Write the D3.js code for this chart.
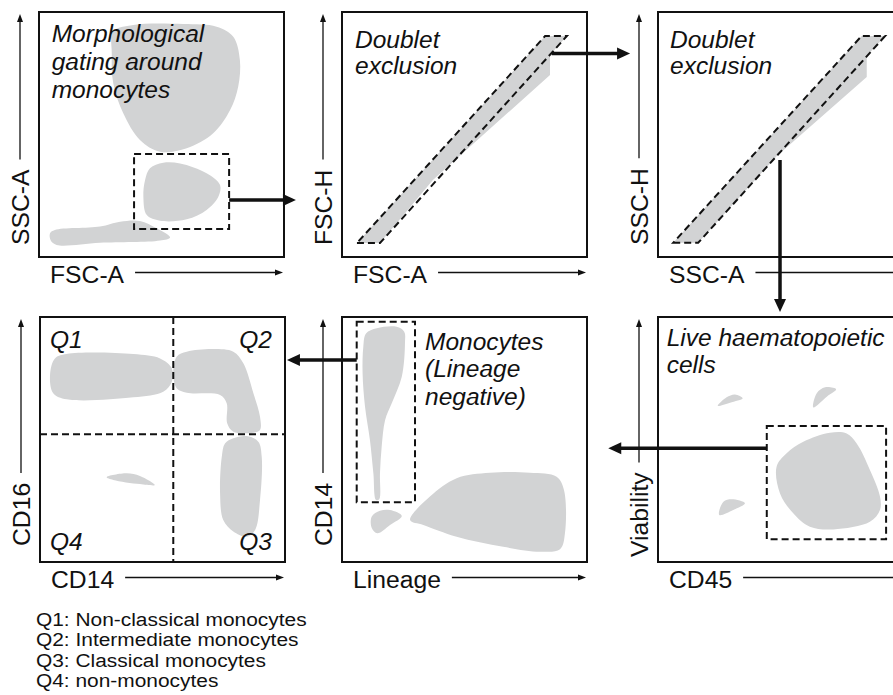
<!DOCTYPE html>
<html>
<head>
<meta charset="utf-8">
<script src="https://cdn.jsdelivr.net/npm/d3@7"></script>
<style>
  body { margin: 0; background: #fff; }
  svg { display: block; font-family: "Liberation Sans", Arial, sans-serif; }
</style>
</head>
<body>
<div id="chart"></div>
<script>
// ---- data (all shapes in axis units, 0-100 on both axes) ----
var xLabels = ["FSC-A", "FSC-A", "SSC-A", "CD14", "Lineage", "CD45"];
var yLabels = ["SSC-A", "FSC-H", "SSC-H", "CD16", "CD14", "Viability"];
var titles = [
  ["Morphological", "gating around", "monocytes"],
  ["Doublet", "exclusion"],
  ["Doublet", "exclusion"],
  [],
  ["Monocytes", "(Lineage", "negative)"],
  ["Live haematopoietic", "cells"]
];
var quadNames = ["Q1", "Q2", "Q3", "Q4"];
var legendItems = [
  "Q1: Non-classical monocytes",
  "Q2: Intermediate monocytes",
  "Q3: Classical monocytes",
  "Q4: non-monocytes"
];

// panel 1, FSC-A vs SSC-A
var granulocytes = [[30.3,92.0],[38.5,94.7],[58.9,95.1],[72.5,94.0],[79.3,89.9],[82.0,80.4],[81.3,69.5],
  [78.0,60.0],[71.1,50.5],[60.3,44.4],[49.4,43.0],[41.2,47.8],[34.4,58.7],[30.3,70.9],[29.7,83.1]];
var monocytes = [[45.3,36.2],[50.7,38.5],[57.6,38.2],[68.4,34.2],[73.9,29.4],[73.2,24.6],[68.4,19.2],
  [60.3,15.4],[49.4,14.8],[44.0,17.1],[42.6,24.6],[43.3,31.4]];
var debris = [[4.5,9.7],[6.5,11.0],[24.9,12.4],[33.1,14.4],[41.2,14.7],[48.0,11.7],[53.5,8.0],
  [49.4,6.7],[24.9,5.8],[7.2,4.9],[4.8,6.7]];
var morphGate = [[38.8,11.4],[77.6,42.0]];

// panels 2 and 3, area vs height
var fscSinglets = [[6.1,5.7],[82.9,90.2],[91.8,90.2],[84.9,82.4],[84.9,74.3],[37.1,31.4],[15.5,5.7]];
var fscGate = [[6.1,5.7],[15.5,5.7],[91.8,90.2],[82.9,90.2]];
var sscSinglets = [[6.2,5.8],[83.1,90.2],[92.7,90.2],[85.2,82.0],[85.2,73.5],[48.5,41.2],[16.4,5.8]];
var sscGate = [[6.2,5.8],[16.4,5.8],[92.7,90.2],[83.1,90.2]];

// panel 4, CD14 vs CD16
var q1Cells = [[4.1,76.3],[6.1,83.1],[10.9,84.9],[38.1,84.9],[49.0,83.1],[53.8,79.1],[53.8,73.6],
  [50.3,69.5],[38.1,67.2],[10.9,66.4],[5.4,68.9]];
var q2Cells = [[55.8,83.8],[59.9,85.8],[70.7,86.9],[78.9,85.8],[83.0,81.1],[87.1,68.9],[89.8,59.3],
  [89.8,53.9],[87.1,52.8],[78.9,53.2],[76.4,56.6],[76.2,64.8],[73.5,68.2],[59.9,69.1],[55.8,70.9],[54.4,77.0]];
var q3Cells = [[78.9,50.5],[84.4,51.4],[89.1,49.1],[90.5,43.0],[89.8,25.3],[87.8,13.1],[84.4,10.3],
  [78.9,12.4],[74.8,17.1],[73.5,28.0],[74.2,43.0],[75.5,48.4]];
var q4Cells = [[27.2,34.6],[35.4,36.2],[40.8,35.1],[46.9,31.4],[40.8,31.8],[29.9,33.5]];
var quadSplit = [54.4, 52.1];

// panel 5, Lineage vs CD14
var linNegative = [[9.8,93.3],[14.2,95.4],[22.3,96.0],[25.4,94.0],[25.7,89.3],[24.4,75.6],[20.3,64.8],
  [17.6,58.0],[16.2,47.1],[15.5,36.2],[15.2,25.6],[13.9,25.3],[12.8,36.2],[11.4,49.8],[9.4,63.4],
  [8.4,77.0],[8.7,87.9]];
var linDouble = [[12.1,18.5],[15.5,20.9],[19.6,21.2],[24.4,18.8],[19.6,15.1],[14.4,11.7],[12.2,13.8]];
var linPositive = [[27.8,17.1],[35.9,26.7],[46.8,34.2],[60.4,36.4],[76.7,36.4],[87.6,34.8],[90.6,29.4],
  [91.0,11.7],[89.0,5.2],[80.8,4.2],[65.8,6.2],[46.8,10.3],[33.2,15.1]];
var linGate = [[6.0,24.4],[29.8,98.1]];

// panel 6, CD45 vs Viability
var liveCells = [[48.4,38.9],[52.5,44.4],[59.3,49.1],[70.2,52.8],[77.0,52.5],[81.1,48.4],[86.5,37.6],
  [90.6,26.7],[90.6,21.2],[86.5,16.4],[71.6,13.3],[62.0,14.4],[55.2,19.9],[49.8,28.0]];
var deadA = [[24.4,63.7],[28.0,67.2],[31.4,68.4],[34.6,66.8],[29.4,65.0]];
var deadB = [[63.4,63.1],[64.8,68.9],[68.2,71.3],[72.7,70.5],[68.9,67.5]];
var deadC = [[25.0,19.2],[26.7,24.6],[30.1,25.6],[35.5,24.0],[30.7,21.2]];
var cd45Gate = [[44.4,9.3],[93.1,55.5]];

// gating flow between panels: [from panel, x, y, to panel, x, y] in axis units
var flows = [
  [0, 77.6, 23.3, 1, -18.8, 23.3],
  [1, 85.6, 83.1, 2, -11.4, 83.1],
  [2, 49.8, 39.6, 5, 49.8, 102.0],
  [5, 44.4, 46.4, 5, -20.3, 46.4],
  [4, 6.0, 82.4, 3, 100.8, 82.4]
];

// ---- layout ----
var W = 893, H = 695, size = 245;
var grey = "#d2d3d4", ink = "#111";
var titleSize = 24.5, labelSize = 24.7;
var panels = [
  {x: 39,  y: 12,  pops: [granulocytes, monocytes, debris], rects: [morphGate], polys: [], curve: true,
   tx: 12.7, ty: 29.5, tl: 28.3, yl: 12},
  {x: 342, y: 12,  pops: [fscSinglets], rects: [], polys: [fscGate], curve: false,
   tx: 13, ty: 36, tl: 26, yl: 12},
  {x: 658, y: 12,  pops: [sscSinglets], rects: [], polys: [sscGate], curve: false,
   tx: 12, ty: 36, tl: 26, yl: 12},
  {x: 40,  y: 317, pops: [q1Cells, q2Cells, q3Cells, q4Cells], rects: [], polys: [], curve: true, quad: quadSplit,
   tx: 0, ty: 0, tl: 0, yl: 16},
  {x: 342, y: 317, pops: [linNegative, linDouble, linPositive], rects: [linGate], polys: [], curve: true,
   tx: 83, ty: 32.5, tl: 27.5, yl: 16},
  {x: 658, y: 317, pops: [liveCells, deadA, deadB, deadC], rects: [cd45Gate], polys: [], curve: true,
   tx: 8.7, ty: 29, tl: 27, yl: 5}
];

var svg = d3.select("#chart").append("svg")
  .attr("width", W)
  .attr("height", H);

panels.forEach(function (p) {
  p.sx = d3.scaleLinear().domain([0, 100]).range([p.x, p.x + size]);
  p.sy = d3.scaleLinear().domain([0, 100]).range([p.y + size, p.y]);
});

// line with a filled triangular head at (x2,y2)
function head(g, x1, y1, x2, y2, len, half, sw) {
  var dx = x2 - x1, dy = y2 - y1, d = Math.sqrt(dx * dx + dy * dy);
  var ux = dx / d, uy = dy / d;
  var bx = x2 - ux * len, by = y2 - uy * len;
  g.append("line")
    .attr("x1", x1).attr("y1", y1)
    .attr("x2", x2 - ux * len * 0.6).attr("y2", y2 - uy * len * 0.6)
    .attr("stroke", ink).attr("stroke-width", sw);
  g.append("path")
    .attr("d", "M" + x2 + "," + y2 + "L" + (bx - uy * half) + "," + (by + ux * half) +
      "L" + (bx + uy * half) + "," + (by - ux * half) + "Z")
    .attr("fill", ink);
}

panels.forEach(function (p, i) {
  var g = svg.append("g").attr("class", "panel");
  var x = p.sx, y = p.sy;

  var blob = d3.line()
    .x(function (d) { return x(d[0]); })
    .y(function (d) { return y(d[1]); })
    .curve(p.curve ? d3.curveCatmullRomClosed.alpha(0.5) : d3.curveLinearClosed);
  var poly = d3.line()
    .x(function (d) { return x(d[0]); })
    .y(function (d) { return y(d[1]); })
    .curve(d3.curveLinearClosed);

  g.selectAll("path.pop")
    .data(p.pops)
    .enter().append("path")
    .attr("class", "pop")
    .attr("d", blob)
    .attr("fill", grey);

  // frame
  g.append("rect")
    .attr("x", x(0)).attr("y", y(100))
    .attr("width", x(100) - x(0)).attr("height", y(0) - y(100))
    .attr("fill", "none").attr("stroke", ink).attr("stroke-width", 2);

  // gates
  g.selectAll("rect.gate")
    .data(p.rects)
    .enter().append("rect")
    .attr("class", "gate")
    .attr("x", function (d) { return x(d[0][0]); })
    .attr("y", function (d) { return y(d[1][1]); })
    .attr("width", function (d) { return x(d[1][0]) - x(d[0][0]); })
    .attr("height", function (d) { return y(d[0][1]) - y(d[1][1]); })
    .attr("fill", "none").attr("stroke", ink)
    .attr("stroke-width", 2).attr("stroke-dasharray", "7,4");

  g.selectAll("path.gate")
    .data(p.polys)
    .enter().append("path")
    .attr("class", "gate")
    .attr("d", poly)
    .attr("fill", "none").attr("stroke", ink)
    .attr("stroke-width", 2).attr("stroke-dasharray", "7,4");

  if (p.quad) {
    g.append("line")
      .attr("x1", x(p.quad[0])).attr("x2", x(p.quad[0]))
      .attr("y1", y(100)).attr("y2", y(0))
      .attr("stroke", ink).attr("stroke-width", 2).attr("stroke-dasharray", "7,4");
    g.append("line")
      .attr("x1", x(0)).attr("x2", x(100))
      .attr("y1", y(p.quad[1])).attr("y2", y(p.quad[1]))
      .attr("stroke", ink).attr("stroke-width", 2).attr("stroke-dasharray", "7,4");
    g.selectAll("text.q")
      .data(quadNames)
      .enter().append("text")
      .attr("class", "q")
      .attr("x", function (d, k) { return (k === 0 || k === 3) ? x(0) + 10 : x(100) - 13; })
      .attr("y", function (d, k) { return k < 2 ? y(100) + 31 : y(0) - 12; })
      .attr("text-anchor", function (d, k) { return (k === 0 || k === 3) ? "start" : "end"; })
      .attr("font-size", titleSize).attr("font-style", "italic").attr("fill", ink)
      .text(function (d) { return d; });
  }

  // title
  g.selectAll("text.title")
    .data(titles[i])
    .enter().append("text")
    .attr("class", "title")
    .attr("x", x(0) + p.tx)
    .attr("y", function (d, k) { return y(100) + p.ty + k * p.tl; })
    .attr("font-size", titleSize).attr("font-style", "italic").attr("fill", ink)
    .text(function (d) { return d; });

  // x axis label + arrow
  var xl = g.append("text")
    .attr("x", x(0) + 11).attr("y", y(0) + 26)
    .attr("font-size", labelSize).attr("fill", ink)
    .text(xLabels[i]);
  var xw = xl.node().getComputedTextLength();
  head(g, x(0) + 11 + xw + 11, y(0) + 15.5, x(100) - 1, y(0) + 15.5, 8, 3, 1.3);

  // y axis label + arrow
  var ax = x(0) - 19;
  var yl = g.append("text")
    .attr("transform", "translate(" + (ax + 9) + "," + (y(0) - p.yl) + ") rotate(-90)")
    .attr("font-size", labelSize).attr("fill", ink)
    .text(yLabels[i]);
  var yw = yl.node().getComputedTextLength();
  head(g, ax, y(0) - p.yl - yw - 10, ax, y(100) + 2, 8, 3, 1.3);
});

// flow arrows
var fg = svg.append("g").attr("class", "flows");
flows.forEach(function (f) {
  var a = panels[f[0]], b = panels[f[3]];
  head(fg, a.sx(f[1]), a.sy(f[2]), b.sx(f[4]), b.sy(f[5]), 13, 6, 3.5);
});

// legend (type in the original is slightly wide, so stretch it a little)
svg.append("g").selectAll("text")
  .data(legendItems)
  .enter().append("text")
  .attr("transform", function (d, k) { return "translate(36," + (626 + k * 20.3) + ") scale(1.1,1)"; })
  .attr("font-size", 19).attr("fill", ink)
  .text(function (d) { return d; });
</script>
</body>
</html>
